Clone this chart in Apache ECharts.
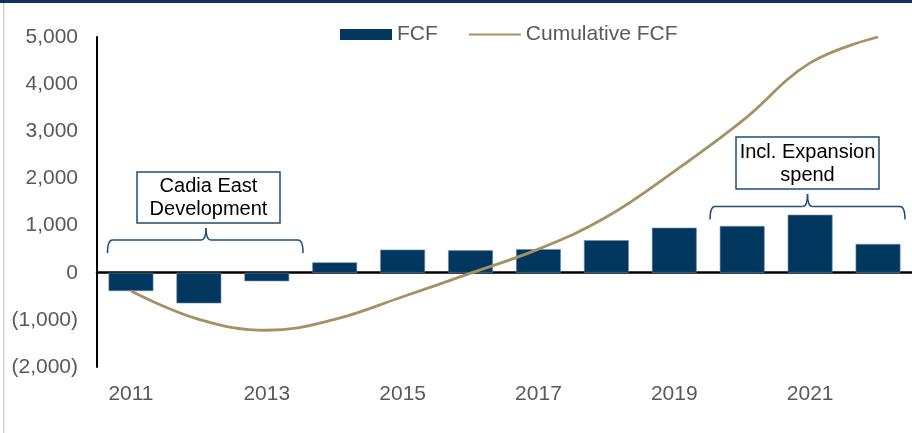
<!DOCTYPE html>
<html>
<head>
<meta charset="utf-8">
<script src="https://cdn.jsdelivr.net/npm/echarts@6/dist/echarts.min.js"></script>
<style>
  html, body { margin: 0; padding: 0; background: #fff; }
  #chart { width: 912px; height: 433px; }
</style>
</head>
<body>
<div id="chart"></div>
<script>
// data
const years = ['2011', '2012', '2013', '2014', '2015', '2016', '2017', '2018', '2019', '2020', '2021', '2022']
const fcf = [-390, -650, -180, 220, 490, 475, 500, 690, 955, 990, 1230, 610]
const cumulativeFcf = [-390, -990, -1220, -990, -510, -10, 500, 1180, 2150, 3220, 4450, 5000]
const yTicks = { min: -2000, max: 5000, interval: 1000 }

const navy = '#02375F'
const tan = '#A59163'
const grey = '#595959'
const noteBlue = '#1F4E79'
const font = 'Liberation Sans, Arial, sans-serif'

function fmt(v) {
  const s = Math.abs(v).toLocaleString('en-US')
  return v < 0 ? '(' + s + ')' : s
}

// curly brace: horizontal line, ends curl down, notch up in the middle
function brace(x1, x2, y, drop, xc, notch) {
  const st = { stroke: noteBlue, lineWidth: 1.5, fill: null }
  const curve = (ax, ay, cx, cy, bx, by) => ({
    type: 'bezierCurve', shape: { x1: ax, y1: ay, cpx1: cx, cpy1: cy, x2: bx, y2: by }, style: st, silent: true
  })
  const line = (ax, ay, bx, by) => ({
    type: 'line', shape: { x1: ax, y1: ay, x2: bx, y2: by }, style: st, silent: true
  })
  return [
    curve(x1, y + drop, x1, y, x1 + 5, y),
    line(x1 + 5, y, xc - 5, y),
    curve(xc - 5, y, xc, y, xc, notch),
    curve(xc, notch, xc, y, xc + 5, y),
    line(xc + 5, y, x2 - 5, y),
    curve(x2 - 5, y, x2, y, x2, y + drop)
  ]
}

const chart = echarts.init(document.getElementById('chart'), null, { renderer: 'canvas' })

const option = {
  animation: false,
  backgroundColor: '#fff',
  textStyle: { fontFamily: font },
  grid: { left: 97, top: 37, width: 818, bottom: 66, containLabel: false },
  legend: {
    top: 19,
    left: 335,
    itemWidth: 52,
    itemHeight: 11,
    itemGap: 30,
    textStyle: { color: grey, fontSize: 21, fontFamily: font },
    data: [
      { name: 'FCF', icon: 'rect', itemStyle: { borderWidth: 0 } },
      { name: 'Cumulative FCF', itemStyle: { opacity: 0 } }
    ]
  },
  xAxis: [
    {
      type: 'category',
      data: years,
      position: 'bottom',
      axisLine: { show: false, onZero: false },
      axisTick: { show: false },
      axisLabel: { interval: 1, color: grey, fontSize: 21, margin: 17, fontFamily: font },
      splitLine: { show: false }
    },
    {
      type: 'category',
      data: years,
      position: 'top',
      axisLine: { show: true, onZero: true, lineStyle: { color: '#000', width: 2.5 } },
      axisTick: { show: false },
      axisLabel: { show: false },
      splitLine: { show: false }
    }
  ],
  yAxis: {
    type: 'value',
    min: yTicks.min,
    max: yTicks.max,
    interval: yTicks.interval,
    axisLine: { show: true, lineStyle: { color: '#000', width: 2 } },
    axisTick: { show: false },
    splitLine: { show: false },
    axisLabel: { color: grey, fontSize: 21, margin: 19, formatter: fmt, fontFamily: font }
  },
  series: [
    {
      name: 'FCF',
      type: 'bar',
      data: fcf,
      barWidth: '66%',
      itemStyle: { color: navy, borderColor: '#6F8BA6', borderWidth: 0.6 }
    },
    {
      name: 'Cumulative FCF',
      type: 'line',
      data: cumulativeFcf,
      smooth: 0.4,
      symbol: 'none',
      lineStyle: { color: tan, width: 2.8 },
      itemStyle: { color: tan },
      z: 3
    }
  ],
  graphic: [
    // frame
    { type: 'rect', shape: { x: 0, y: 0, width: 912, height: 3 }, style: { fill: '#0B3560' }, silent: true },
    { type: 'rect', shape: { x: 3, y: 3, width: 1.5, height: 430 }, style: { fill: '#D4D4D4' }, silent: true },
    // Cadia East note
    { type: 'rect', shape: { x: 137, y: 172, width: 143, height: 51 }, style: { fill: '#fff', stroke: noteBlue, lineWidth: 1.5 } },
    { type: 'text', x: 208.5, y: 197.5, style: { text: 'Cadia East\nDevelopment', fill: '#000', font: '20px ' + font, align: 'center', verticalAlign: 'middle', lineHeight: 23 } },
    ...brace(107.5, 303, 240, 13, 206, 228),
    // Expansion note
    { type: 'rect', shape: { x: 736, y: 137, width: 143, height: 52 }, style: { fill: '#fff', stroke: noteBlue, lineWidth: 1.5 } },
    { type: 'text', x: 807.5, y: 163.5, style: { text: 'Incl. Expansion\nspend', fill: '#000', font: '20px ' + font, align: 'center', verticalAlign: 'middle', lineHeight: 23 } },
    ...brace(710, 905, 206.5, 13, 807.5, 194)
  ]
}

chart.setOption(option)
window.addEventListener('resize', () => chart.resize())
</script>
</body>
</html>
